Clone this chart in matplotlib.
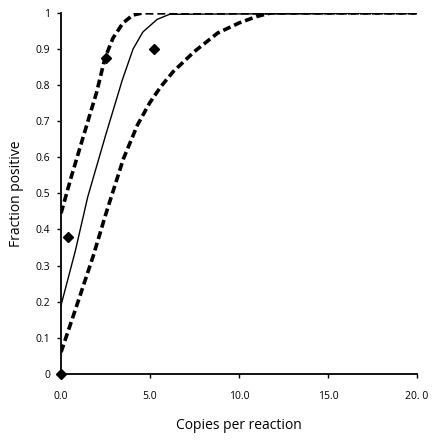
import matplotlib
matplotlib.use("Agg")
import matplotlib.pyplot as plt

# Data
upper_x = [0, 0.6, 1.25, 2.0, 2.47, 2.92, 3.48, 4.04, 4.6, 20]
upper_y = [0.445, 0.55, 0.657, 0.78, 0.875, 0.93, 0.972, 0.994, 1.0, 1.0]

fit_x = [0, 0.8, 1.5, 2.5, 3.45, 4.05, 4.6, 5.4, 6.1, 20]
fit_y = [0.19, 0.34, 0.49, 0.66, 0.815, 0.9, 0.947, 0.982, 0.996, 1.0]

lower_x = [0, 0.8, 1.8, 2.5, 3.5, 4.3, 5.0, 5.6, 6.3, 7.5, 8.8, 10.0, 11.0, 11.8, 20]
lower_y = [0.06, 0.177, 0.325, 0.44, 0.595, 0.69, 0.752, 0.795, 0.837, 0.893, 0.944, 0.972, 0.99, 1.0, 1.0]

obs_x = [0, 0.4, 2.5, 5.2]
obs_y = [0, 0.38, 0.875, 0.90]

x_ticks = [0, 5, 10, 15, 20]
x_tick_labels = ["0.0", "5.0", "10.0", "15.0", "20. 0"]
y_ticks = [0, 0.1, 0.2, 0.3, 0.4, 0.5, 0.6, 0.7, 0.8, 0.9, 1.0]
y_tick_labels = ["0", "0.1", "0.2", "0.3", "0.4", "0.5", "0.6", "0.7", "0.8", "0.9", "1"]

plt.rcParams['font.family'] = ['Open Sans', 'DejaVu Sans']

fig = plt.figure(figsize=(4.36, 4.44), dpi=100)
ax = fig.add_axes([0.14, 0.158, 0.816, 0.813])

ax.plot(upper_x, upper_y, color='black', lw=2.6, dashes=(2.2, 1.1))
ax.plot(fit_x, fit_y, color='black', lw=1.0)
ax.plot(lower_x, lower_y, color='black', lw=2.6, dashes=(2.2, 1.1))
ax.plot(obs_x, obs_y, linestyle='none', marker='D', color='black', ms=5, clip_on=False, zorder=5)

ax.set_xlim(0, 20)
ax.set_ylim(0, 1)
ax.set_xticks(x_ticks)
ax.set_xticklabels(x_tick_labels)
ax.set_yticks(y_ticks)
ax.set_yticklabels(y_tick_labels)

for s in ['top', 'right']:
    ax.spines[s].set_visible(False)
for s in ['left', 'bottom']:
    ax.spines[s].set_linewidth(1.3)

ax.tick_params(axis='both', direction='out', length=3, width=1, labelsize=7.5)
ax.tick_params(axis='x', pad=9)
ax.tick_params(axis='y', pad=5)

ax.set_xlabel("Copies per reaction", fontsize=10, labelpad=12)
ax.set_ylabel("Fraction positive", fontsize=10, labelpad=8)

fig.savefig("out.png", dpi=100)
